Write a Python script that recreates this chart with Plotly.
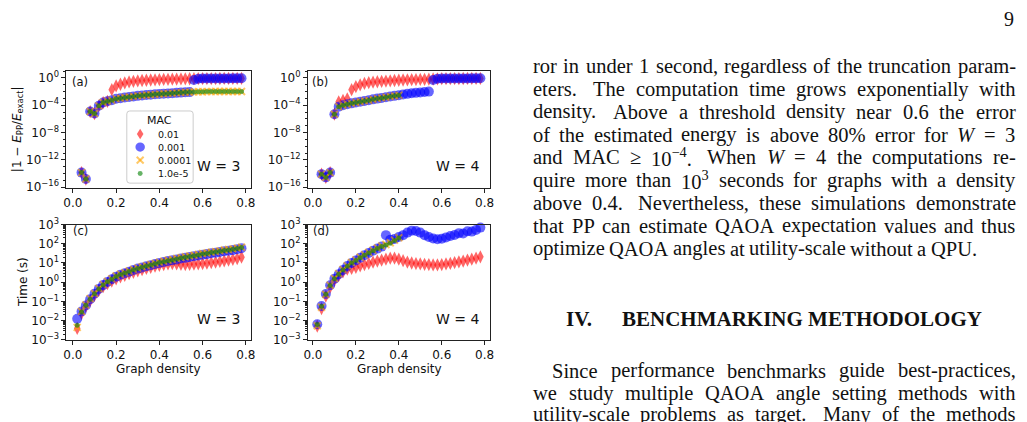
import re
import plotly.graph_objects as go

# ---------------- data ----------------
density = [0.02, 0.04, 0.06, 0.08, 0.10, 0.12, 0.14, 0.16, 0.18, 0.20,
           0.22, 0.24, 0.26, 0.28, 0.30, 0.32, 0.34, 0.36, 0.38, 0.40,
           0.42, 0.44, 0.46, 0.48, 0.50, 0.52, 0.54, 0.56, 0.58, 0.60,
           0.62, 0.64, 0.66, 0.68, 0.70, 0.72, 0.74, 0.76, 0.78]

mac_labels = ["0.01", "0.001", "0.0001", "1.0e-5"]

# (a) error, W = 3
err_w3_mac1e2 = [None, 1.4e-14, 1.6e-15, 1.2e-5, 6.3e-6, 8.3e-5, 2.5e-4, 3.8e-4, 0.019, 0.068,
                 0.12, 0.19, 0.26, 0.32, 0.37, 0.42, 0.46, 0.5, 0.54, 0.57,
                 0.6, 0.63, 0.66, 0.69, 0.72, 0.74, 0.76, 0.78, 0.79, 0.8,
                 0.81, 0.82, 0.82, 0.83, 0.84, 0.84, 0.85, 0.85, 0.86]
err_w3_mac1e3 = [None, 1.4e-14, 1.6e-15, 1.2e-5, 6.3e-6, 8.3e-5, 2.5e-4, 3.8e-4, 5.6e-4, 8.9e-4,
                 1.1e-3, 1.35e-3, 1.66e-3, 2.0e-3, 2.4e-3, 2.75e-3, 3.2e-3, 3.5e-3, 4.0e-3, 4.5e-3,
                 5.0e-3, 5.5e-3, 6.0e-3, 6.6e-3, 7.2e-3, 7.9e-3, 8.5e-3, 0.5, 0.78, 0.82,
                 0.83, 0.84, 0.85, 0.85, 0.86, 0.86, 0.87, 0.87, 0.88]
err_w3_mac1e4 = [None, 1.4e-14, 1.6e-15, 1.2e-5, 6.3e-6, 8.3e-5, 2.5e-4, 3.8e-4, 5.6e-4, 8.9e-4,
                 1.1e-3, 1.35e-3, 1.66e-3, 2.0e-3, 2.4e-3, 2.75e-3, 3.2e-3, 3.5e-3, 4.0e-3, 4.5e-3,
                 5.0e-3, 5.5e-3, 6.0e-3, 6.6e-3, 7.2e-3, 7.9e-3, 8.5e-3, 9.1e-3, 9.5e-3, 9.8e-3,
                 1.0e-2, 1.0e-2, 1.02e-2, 1.02e-2, 1.03e-2, 1.03e-2, 1.04e-2, 1.04e-2, 1.05e-2]
err_w3_mac1e5 = [None, 1.4e-14, 1.6e-15, 1.2e-5, 6.3e-6, 8.3e-5, 2.5e-4, 3.8e-4, 5.6e-4, 8.9e-4,
                 1.1e-3, 1.35e-3, 1.66e-3, 2.0e-3, 2.4e-3, 2.75e-3, 3.2e-3, 3.5e-3, 4.0e-3, 4.5e-3,
                 5.0e-3, 5.5e-3, 6.0e-3, 6.6e-3, 7.2e-3, 7.9e-3, 8.5e-3, 9.1e-3, 9.5e-3, 9.8e-3,
                 1.0e-2, 1.0e-2, 1.02e-2, 1.02e-2, 1.03e-2, 1.03e-2, 1.04e-2, 1.04e-2, 1.05e-2]

# (b) error, W = 4
err_w4_mac1e2 = [None, 8.3e-15, 2.8e-15, 1.4e-14, 5.0e-6, 3.2e-4, 5.0e-4, 8.9e-4, 0.019, 0.055,
                 0.1, 0.16, 0.2, 0.24, 0.28, 0.32, 0.35, 0.38, 0.42, 0.46,
                 0.5, 0.53, 0.56, 0.58, 0.6, 0.63, 0.66, 0.7, 0.74, 0.77,
                 0.79, 0.8, 0.81, 0.82, 0.83, 0.84, 0.84, 0.85, 0.85]
err_w4_mac1e3 = [None, 8.3e-15, 2.8e-15, 1.4e-14, 5.0e-6, 6.3e-5, 1.0e-4, 1.4e-4, 1.9e-4, 2.5e-4,
                 3.3e-4, 4.4e-4, 5.6e-4, 7.4e-4, 9.5e-4, 1.2e-3, 1.5e-3, 1.9e-3, 2.4e-3, 3.0e-3,
                 3.8e-3, 4.7e-3, 5.6e-3, 6.6e-3, 7.6e-3, 8.7e-3, 1.0e-2, 0.5, 0.78, 0.82,
                 0.83, 0.84, 0.85, 0.85, 0.86, 0.86, 0.87, 0.87, 0.88]
err_w4_mac1e4 = [None, 8.3e-15, 2.8e-15, 1.4e-14, 5.0e-6, 6.3e-5, 1.0e-4, 1.4e-4, 1.9e-4, 2.5e-4,
                 3.3e-4, 4.4e-4, 5.6e-4, 7.4e-4, 9.5e-4, 1.2e-3, 1.5e-3, 1.9e-3, 2.4e-3, 3.0e-3,
                 None, None, None, None, None, None, None, None, None, None,
                 None, None, None, None, None, None, None, None, None]
err_w4_mac1e5 = [None, 8.3e-15, 2.8e-15, 1.4e-14, 5.0e-6, 6.3e-5, 1.0e-4, 1.4e-4, 1.9e-4, 2.5e-4,
                 3.3e-4, 4.4e-4, 5.6e-4, 7.4e-4, 9.5e-4, 1.2e-3, 1.5e-3, 1.9e-3, 2.4e-3, 3.0e-3,
                 None, None, None, None, None, None, None, None, None, None,
                 None, None, None, None, None, None, None, None, None]

# (c) time (s), W = 3
time_w3_mac1e2 = [4.0e-3, 0.024, 0.055, 0.11, 0.21, 0.38, 0.6, 0.85, 1.15, 1.5,
                  1.9, 2.3, 2.8, 3.3, 3.9, 4.5, 5.2, 6.0, 6.8, 7.6,
                  8.3, 8.9, 9.3, 9.0, 8.5, 8.3, 8.5, 8.7, 9.0, 9.3,
                  9.8, 10.5, 11.2, 12.0, 13.0, 14.1, 15.5, 17.0, 20.0]
time_w3_mac1e3 = [0.0126, 0.03, 0.062, 0.13, 0.25, 0.45, 0.71, 1.03, 1.43, 1.95,
                  2.45, 2.95, 3.5, 4.3, 5.1, 5.8, 6.7, 7.6, 8.8, 10.1,
                  11.2, 12.6, 13.8, 15.3, 17.0, 18.5, 20.3, 22.2, 24.3, 27.2,
                  29.0, 31.8, 34.0, 37.2, 40.8, 43.7, 46.8, 51.3, 58.0]
time_w3_mac1e4 = [4.5e-3, 0.03, 0.066, 0.14, 0.26, 0.47, 0.76, 1.1, 1.5, 2.1,
                  2.6, 3.1, 3.8, 4.6, 5.4, 6.3, 7.2, 8.3, 9.5, 11.0,
                  12.3, 13.8, 15.2, 17.0, 19.1, 20.9, 23.0, 25.2, 27.6, 31.0,
                  33.2, 36.4, 39.1, 42.7, 46.9, 50.3, 53.9, 59.0, 66.3]
time_w3_mac1e5 = [5.9e-3, 0.028, 0.063, 0.13, 0.25, 0.45, 0.72, 1.05, 1.45, 2.0,
                  2.5, 3.0, 3.6, 4.4, 5.2, 6.0, 6.9, 7.9, 9.1, 10.5,
                  11.7, 13.2, 14.5, 16.2, 18.2, 19.9, 21.9, 24.0, 26.3, 29.5,
                  31.6, 34.7, 37.2, 40.7, 44.7, 47.9, 51.3, 56.2, 63.1]

# (d) time (s), W = 4
time_w4_mac1e2 = [5.2e-3, 0.043, 0.19, 0.56, 1.26, 2.2, 3.5, 4.8, 5.2, 6.0,
                  7.1, 8.3, 9.5, 11, 12.6, 14.1, 15.8, 17.8, 17.8, 15.8,
                  13.2, 11.2, 10, 9.3, 8.9, 8.5, 8.3, 7.9, 7.9, 8.3,
                  8.9, 9.5, 10.5, 11.5, 12.6, 14.1, 15.8, 17.8, 20.9]
time_w4_mac1e3 = [6.5e-3, 0.058, 0.245, 0.69, 1.5, 2.6, 4.3, 6.9, 10, 13.5,
                  18.6, 25, 33, 43, 56, 71, 280, 160, 178, 224,
                  280, 380, 480, 457, 380, 280, 224, 186, 170, 182,
                  214, 251, 282, 355, 339, 447, 427, 525, 690]
time_w4_mac1e4 = [5.5e-3, 0.05, 0.23, 0.7, 1.55, 2.8, 4.6, 7.2, 10.7, 14.5,
                  20, 27, 35.5, 46, 60, 76, 91, 112, 155, 205,
                  None, None, None, None, None, None, None, None, None, None,
                  None, None, None, None, None, None, None, None, None]
time_w4_mac1e5 = [6.3e-3, 0.056, 0.24, 0.68, 1.5, 2.6, 4.3, 6.8, 10, 13.5,
                  18.6, 25, 33, 43, 56, 71, 85, 107, 148, 200,
                  None, None, None, None, None, None, None, None, None, None,
                  None, None, None, None, None, None, None, None, None]

x_ticks = [0.0, 0.2, 0.4, 0.6, 0.8]
x_tick_text = ["0.0", "0.2", "0.4", "0.6", "0.8"]
err_tick_exp = [0, -4, -8, -12, -16]
time_tick_exp = [3, 2, 1, 0, -1, -2, -3]

# ---------------- page geometry ----------------
W, H = 1027, 422


def px(x):
    return x / W


def py(y):
    return 1 - y / H


panels = [
    dict(name="a", xd=(62, 248), yd=(64, 186), xr=[-0.030, 0.822], yr=[-16.1, 1.08], kind="err",
         series=[err_w3_mac1e2, err_w3_mac1e3, err_w3_mac1e4, err_w3_mac1e5], W="W = 3"),
    dict(name="b", xd=(306, 490), yd=(64, 186), xr=[-0.023, 0.826], yr=[-16.1, 1.08], kind="err",
         series=[err_w4_mac1e2, err_w4_mac1e3, err_w4_mac1e4, err_w4_mac1e5], W="W = 4"),
    dict(name="c", xd=(62, 248), yd=(224, 344), xr=[-0.030, 0.822], yr=[-3, 3], kind="time",
         series=[time_w3_mac1e2, time_w3_mac1e3, time_w3_mac1e4, time_w3_mac1e5], W="W = 3"),
    dict(name="d", xd=(306, 490), yd=(224, 344), xr=[-0.023, 0.826], yr=[-3, 3], kind="time",
         series=[time_w4_mac1e2, time_w4_mac1e3, time_w4_mac1e4, time_w4_mac1e5], W="W = 4"),
]

marker_styles = [
    dict(symbol="diamond-tall", size=9.5, color="rgba(255,0,0,0.6)", line=dict(width=0)),
    dict(symbol="circle", size=10, color="rgba(0,0,255,0.6)", line=dict(width=0)),
    dict(symbol="x-thin", size=7, color="rgba(255,165,0,0.6)",
         line=dict(width=2, color="rgba(255,165,0,0.6)")),
    dict(symbol="circle", size=5, color="rgba(0,128,0,0.6)", line=dict(width=0)),
]

SANS = "DejaVu Sans"
SERIF = "Liberation Serif"
AX = "#222222"
TXT = "#111111"

fig = go.Figure()
layout = dict(width=W, height=H, autosize=False, margin=dict(l=0, r=0, t=0, b=0, pad=0),
              paper_bgcolor="white", plot_bgcolor="white", showlegend=False)

annotations = []
shapes = []


def ann(text, x, y, size, family=SANS, xanchor="center", yanchor="middle", angle=0, color=TXT):
    annotations.append(dict(text=text, x=px(x), y=py(y), xref="paper", yref="paper",
                            showarrow=False, xanchor=xanchor, yanchor=yanchor, textangle=angle,
                            borderpad=0, font=dict(family=family, size=size, color=color)))


for i, p in enumerate(panels):
    k = "" if i == 0 else str(i + 1)
    xa, ya = "x" + k, "y" + k
    for s, vals in enumerate(p["series"]):
        fig.add_trace(go.Scatter(x=density, y=vals, mode="markers", name=mac_labels[s],
                                 marker=marker_styles[s], xaxis=xa, yaxis=ya, cliponaxis=False))
    common = dict(showline=True, linecolor=AX, linewidth=1, mirror=True, showgrid=False,
                  zeroline=False, ticks="outside", ticklen=4, tickwidth=1, tickcolor=AX,
                  tickfont=dict(family=SANS, size=12, color=TXT))
    layout["xaxis" + k] = dict(domain=[px(p["xd"][0]), px(p["xd"][1])], range=p["xr"],
                               anchor=ya, tickmode="array", tickvals=x_ticks,
                               ticktext=x_tick_text, **common)
    if p["kind"] == "err":
        exps = err_tick_exp
        minor_vals = [10.0 ** e for e in range(-16, 2)]
    else:
        exps = time_tick_exp
        minor_vals = [m * 10.0 ** e for e in range(-3, 3) for m in range(2, 10)]
    tickvals = [10.0 ** e for e in exps]
    ticktext = ["10<sup>%s</sup>" % (str(e).replace("-", "\u2212")) for e in exps]
    layout["yaxis" + k] = dict(domain=[py(p["yd"][1]), py(p["yd"][0])], type="log",
                               range=p["yr"], anchor=xa, tickmode="array", tickvals=tickvals,
                               ticktext=ticktext,
                               minor=dict(tickmode="array", tickvals=minor_vals, ticks="outside",
                                          ticklen=2.5, tickwidth=0.8, tickcolor=AX),
                               **common)

# panel labels and W labels
for p, (lx, ly) in zip(panels, [(76, 76), (318, 76), (76, 231), (319, 231)]):
    ann("(%s)" % p["name"], lx, ly, 11.5)
for p, (wx, wy) in zip(panels, [(216, 163), (457, 163), (216, 322), (457, 322)]):
    ann(p["W"], wx, wy, 14)

# axis labels
ann("|1 \u2212 <i>E</i><sub>PP</sub>/<i>E</i><sub>exact</sub>|", 13, 125, 12, angle=-90)
ann("Time (s)", 18, 284, 12, angle=-90)
ann("Graph density", 155, 374, 12)
ann("Graph density", 398, 374, 12)

# ---------------- legend (panel a) ----------------
lx0, lx1, ly0, ly1 = 123, 190, 106, 181
r = 3
path = ("M {a},{b} L {c},{b} Q {d},{b} {d},{e} L {d},{f} Q {d},{g} {c},{g} "
        "L {a},{g} Q {h},{g} {h},{f} L {h},{e} Q {h},{b} {a},{b} Z").format(
    a=px(lx0 + r), b=py(ly0), c=px(lx1 - r), d=px(lx1), e=py(ly0 + r), f=py(ly1 - r),
    g=py(ly1), h=px(lx0))
shapes.append(dict(type="path", path=path, xref="paper", yref="paper", layer="above",
                   fillcolor="rgba(255,255,255,0.8)", line=dict(color="#cccccc", width=1)))
ann("MAC", 156.5, 116, 11)
rows = [130, 143.5, 157, 171]
cx = 136.5
y = rows[0]
shapes.append(dict(type="path", xref="paper", yref="paper", layer="above",
                   path="M {x},{t} L {r},{m} L {x},{b} L {l},{m} Z".format(
                       x=px(cx), t=py(y - 5.5), r=px(cx + 3.3), m=py(y), b=py(y + 5.5),
                       l=px(cx - 3.3)),
                   fillcolor="rgba(255,0,0,0.6)", line=dict(width=0)))
y = rows[1]
shapes.append(dict(type="circle", xref="paper", yref="paper", layer="above",
                   x0=px(cx - 4.8), x1=px(cx + 4.8), y0=py(y + 4.8), y1=py(y - 4.8),
                   fillcolor="rgba(0,0,255,0.6)", line=dict(width=0)))
y = rows[2]
for sgn in (1, -1):
    shapes.append(dict(type="line", xref="paper", yref="paper", layer="above",
                       x0=px(cx - 3.5), x1=px(cx + 3.5), y0=py(y - 3.5 * sgn), y1=py(y + 3.5 * sgn),
                       line=dict(color="rgba(255,165,0,0.6)", width=2)))
y = rows[3]
shapes.append(dict(type="circle", xref="paper", yref="paper", layer="above",
                   x0=px(cx - 2.5), x1=px(cx + 2.5), y0=py(y + 2.5), y1=py(y - 2.5),
                   fillcolor="rgba(0,128,0,0.6)", line=dict(width=0)))
for lab, yy in zip(mac_labels, rows):
    ann(lab, 153, yy, 9.5, xanchor="left")

# ---------------- page text (right column) ----------------
TW = {' ': 250, '.': 250, ',': 250, '-': 333, '%': 833, '=': 564, '\u2265': 549, '\u2212': 564,
      ':': 278, '(': 333, ')': 333}
for ch, w in zip("abcdefghijklmnopqrstuvwxyz",
                 [444, 500, 444, 500, 444, 333, 500, 500, 278, 278, 500, 278, 778, 500, 500, 500,
                  500, 333, 389, 278, 500, 500, 722, 500, 500, 444]):
    TW[ch] = w
for ch, w in zip("ABCDEFGHIJKLMNOPQRSTUVWXYZ",
                 [722, 667, 667, 722, 611, 556, 722, 722, 333, 389, 722, 611, 889, 722, 722, 556,
                  722, 667, 556, 611, 722, 722, 944, 722, 722, 611]):
    TW[ch] = w
for ch in "0123456789":
    TW[ch] = 500
TW_IT = {'W': 833}


def text_w(s, size):
    sup = False
    it = False
    w = 0.0
    for part in re.split(r'(<[^>]+>)', s):
        if part.startswith('<'):
            tag = part.strip('<>/').lower()
            closing = part.startswith('</')
            if tag == 'sup':
                sup = not closing
            elif tag == 'i':
                it = not closing
            continue
        for ch in part:
            cw = TW_IT[ch] if (it and ch in TW_IT) else TW.get(ch, 500)
            w += cw * (0.7 if sup else 1.0)
    return w / 1000.0 * size


BODY = 20.5
LEFT, RIGHT = 532, 1019


def set_line(text, y, left=LEFT, justify=True):
    words = text.split(' ')
    widths = [text_w(wd, BODY) for wd in words]
    weights = [1.45 if wd.endswith('.') else 1.0 for wd in words[:-1]]
    nat_space = 0.25 * BODY
    if justify and len(words) > 1:
        unit = (RIGHT - left - sum(widths)) / sum(weights)
    else:
        unit = nat_space
    x = left
    for j, wd in enumerate(words):
        ann(wd, x, y, BODY, family=SERIF, xanchor="left")
        x += widths[j]
        if j < len(weights):
            x += unit * weights[j]


para1 = [
    "ror in under 1 second, regardless of the truncation param-",
    "eters. The computation time grows exponentially with",
    "density. Above a threshold density near 0.6 the error",
    "of the estimated energy is above 80% error for <i>W</i> = 3",
    "and MAC \u2265 10<sup>\u22124</sup>. When <i>W</i> = 4 the computations re-",
    "quire more than 10<sup>3</sup> seconds for graphs with a density",
    "above 0.4. Nevertheless, these simulations demonstrate",
    "that PP can estimate QAOA expectation values and thus",
    "optimize QAOA angles at utility-scale without a QPU.",
]
line_y = [59.5, 83.2, 106.9, 130.6, 154.3, 178.0, 201.7, 225.4, 249.1]
for j, (t, yy) in enumerate(zip(para1, line_y)):
    set_line(t, yy, justify=(j < len(para1) - 1))

# section heading
ann("<b>IV.</b>", 566, 322, 21, family=SERIF, xanchor="left")
ann("<b>BENCHMARKING METHODOLOGY</b>", 988, 322, 21, family=SERIF, xanchor="right")

para2 = [
    "Since performance benchmarks guide best-practices,",
    "we study multiple QAOA angle setting methods with",
    "utility-scale problems as target. Many of the methods",
]
for j, (t, yy) in enumerate(zip(para2, [376, 399.3, 421])):
    set_line(t, yy, left=(551 if j == 0 else LEFT))

# page number
ann("9", 1014, 10, 20, family=SERIF)

layout["annotations"] = annotations
layout["shapes"] = shapes
fig.update_layout(**layout)
fig.write_html("out.html")
